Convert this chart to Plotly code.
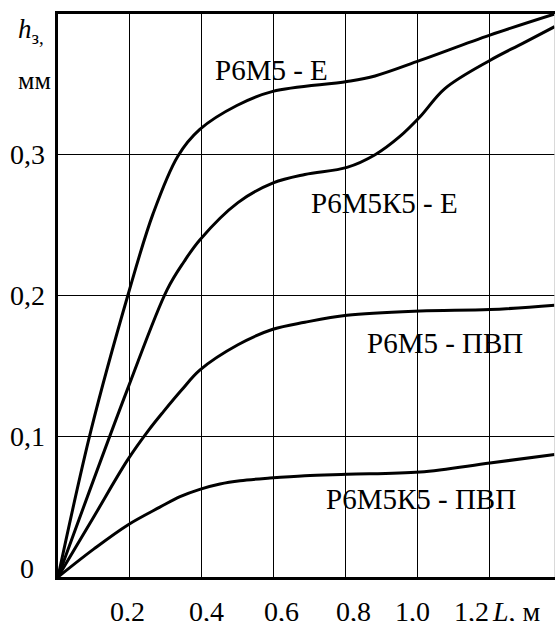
import plotly.graph_objects as go

# ---- data ----
L_e1 = [0, 0.092, 0.194, 0.264, 0.333, 0.394, 0.497, 0.597, 0.803, 0.881, 1.006, 1.2, 1.38]
h_e1 = [0, 0.1045, 0.2, 0.258, 0.299, 0.318, 0.335, 0.345, 0.352, 0.356, 0.367, 0.385, 0.4]

L_e2 = [0, 0.194, 0.303, 0.35, 0.394, 0.5, 0.598, 0.686, 0.803, 0.881, 0.95, 1.006, 1.075, 1.2, 1.29, 1.38]
h_e2 = [0, 0.134, 0.204, 0.224, 0.2395, 0.266, 0.280, 0.286, 0.291, 0.300, 0.313, 0.327, 0.347, 0.367, 0.379, 0.391]

L_p1 = [0, 0.1, 0.193, 0.251, 0.293, 0.344, 0.394, 0.5, 0.597, 0.686, 0.803, 1.006, 1.2, 1.38]
h_p1 = [0, 0.043, 0.083, 0.104, 0.1175, 0.133, 0.147, 0.165, 0.176, 0.181, 0.186, 0.189, 0.190, 0.193]

L_p2 = [0, 0.1, 0.194, 0.283, 0.339, 0.394, 0.45, 0.506, 0.589, 0.686, 0.803, 1.006, 1.2, 1.38]
h_p2 = [0, 0.020, 0.037, 0.0496, 0.0571, 0.0623, 0.0661, 0.0684, 0.0703, 0.072, 0.073, 0.0746, 0.081, 0.087]

series = [
    (L_e1, h_e1, "Р6М5 - Е"),
    (L_e2, h_e2, "Р6М5К5 - Е"),
    (L_p1, h_p1, "Р6М5 - ПВП"),
    (L_p2, h_p2, "Р6М5К5 - ПВП"),
]

label_text = ["Р6М5 - Е", "Р6М5К5 - Е", "Р6М5 - ПВП", "Р6М5К5 - ПВП"]
label_x = [0.592, 0.908, 1.075, 1.008]
label_y = [0.360, 0.266, 0.166, 0.0555]

x_grid = [0.2, 0.4, 0.6, 0.8, 1.0, 1.2]
x_tick_text = ["0,2", "0,4", "0,6", "0,8", "1,0", "1,2"]
x_tick_pos = [0.192, 0.414, 0.622, 0.822, 0.986, 1.15]

y_grid = [0.1, 0.2, 0.3]
y_tick_vals = [0.0, 0.1, 0.2, 0.3]
y_tick_text = ["0", "0,1", "0,2", "0,3"]

FONT = "Liberation Serif, Tinos, Times New Roman, serif"

fig = go.Figure()
for xs, ys, name in series:
    fig.add_trace(go.Scatter(
        x=xs, y=ys, mode="lines", name=name,
        line=dict(color="black", width=3, shape="spline", smoothing=1.0),
        hoverinfo="skip", showlegend=False,
    ))

annotations = []
for t, x, y in zip(label_text, label_x, label_y):
    annotations.append(dict(x=x, y=y, xref="x", yref="y", text=t, showarrow=False,
                            font=dict(family=FONT, size=29, color="black"),
                            xanchor="center", yanchor="middle"))
for t, x in zip(x_tick_text, x_tick_pos):
    annotations.append(dict(x=x, y=0, xref="x", yref="paper", text=t, showarrow=False,
                            font=dict(family=FONT, size=28, color="black"),
                            xanchor="center", yanchor="middle", yshift=-34))
for t, y in zip(y_tick_text, y_tick_vals):
    annotations.append(dict(x=0, y=y, xref="paper", yref="y", text=t, showarrow=False,
                            font=dict(family=FONT, size=28, color="black"),
                            xanchor="center", yanchor="middle", xshift=-31,
                            yshift=(9 if y == 0 else 0)))
# axis titles
annotations.append(dict(x=0, y=1, xref="paper", yref="paper",
                        text="<i>h</i><sub>з,</sub>", showarrow=False,
                        font=dict(family=FONT, size=27, color="black"),
                        xanchor="left", yanchor="middle", xshift=-42, yshift=-17))
annotations.append(dict(x=0, y=1, xref="paper", yref="paper",
                        text="мм", showarrow=False,
                        font=dict(family=FONT, size=26, color="black"),
                        xanchor="left", yanchor="middle", xshift=-42, yshift=-66))
annotations.append(dict(x=1.2, y=0, xref="x", yref="paper",
                        text="<i>L</i>, м", showarrow=False,
                        font=dict(family=FONT, size=28, color="black"),
                        xanchor="left", yanchor="middle", xshift=0, yshift=-34))

fig.update_layout(
    width=555, height=621,
    margin=dict(l=58, r=0, t=14, b=44),
    paper_bgcolor="white", plot_bgcolor="white",
    font=dict(family=FONT, color="black"),
    annotations=annotations,
    xaxis=dict(range=[0, 1.381], tickvals=x_grid, showticklabels=False,
               showgrid=True, gridcolor="black", gridwidth=1.3,
               showline=True, linecolor="black", linewidth=2.5, mirror=True,
               zeroline=False, ticks=""),
    yaxis=dict(range=[0, 0.4], tickvals=y_grid, showticklabels=False,
               showgrid=True, gridcolor="black", gridwidth=1.3,
               showline=True, linecolor="black", linewidth=2.5, mirror=False,
               zeroline=False, ticks=""),
    shapes=[dict(type="line", xref="paper", yref="paper", x0=1, x1=1, y0=0, y1=1,
                 line=dict(color="#cccccc", width=1.5))],
)

fig.write_html(
    "out.html",
    config={"displayModeBar": False},
    post_script="document.body.style.margin='0';document.body.style.overflow='hidden';",
)
